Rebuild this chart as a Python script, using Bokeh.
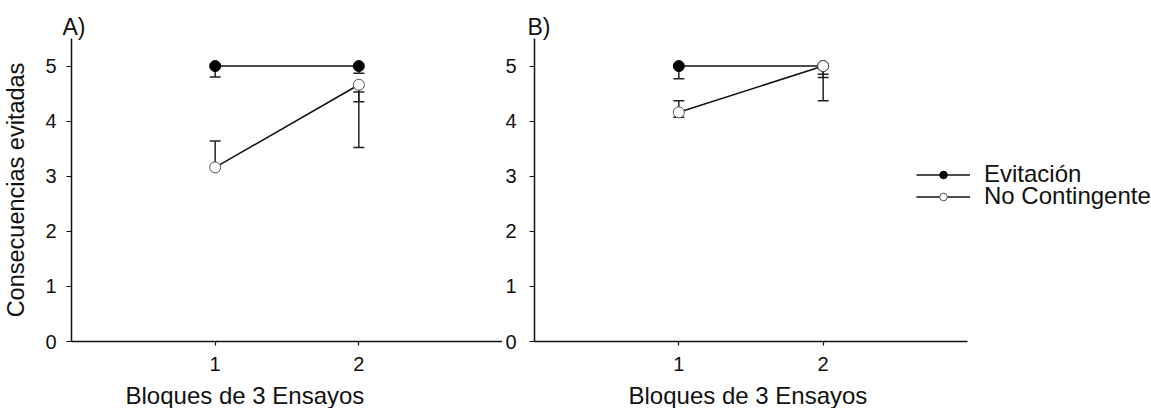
from bokeh.plotting import figure
from bokeh.layouts import row
from bokeh.models import Range1d, Legend, LegendItem, Title, FixedTicker, ColumnDataSource
from bokeh.embed import file_html
from bokeh.resources import INLINE

# ---------------- data ----------------
blocks = [1, 2]
x_ticks = [1, 2]
y_ticks = [0, 1, 2, 3, 4, 5]

A_evitacion = [5.0, 5.0]
A_no_contingente = [3.16, 4.66]
A_err_x = [1, 2, 1, 2, 2, 2]
A_err_base = [5.0, 5.0, 3.16, 4.66, 4.66, 4.66]
A_err_end = [4.80, 4.87, 3.64, 3.52, 4.53, 4.35]

B_evitacion = [5.0, 5.0]
B_no_contingente = [4.16, 5.0]
B_err_x = [1, 2, 2, 1, 1, 2]
B_err_base = [5.0, 5.0, 5.0, 4.16, 4.16, 5.0]
B_err_end = [4.77, 4.85, 4.79, 4.37, 4.07, 4.37]

series_names = ["Evitación", "No Contingente"]
x_title = "Bloques de 3 Ensayos"
y_title = "Consecuencias evitadas"

FONT = "Liberation Sans"
INK = "#111111"


def make_panel(letter, evit, nc, ex, eb, ee, frame_w, x_end, border_left, border_top,
               border_bottom, ylabel_standoff, title_offset, xtitle_offset):
    p = figure(output_backend="svg", toolbar_location=None,
               frame_width=frame_w, frame_height=303,
               min_border_left=border_left, min_border_right=0,
               min_border_top=border_top, min_border_bottom=border_bottom,
               x_range=Range1d(0, x_end), y_range=Range1d(0, 5.5))
    p.outline_line_color = None
    p.background_fill_color = "white"
    p.border_fill_color = "white"
    p.xgrid.visible = False
    p.ygrid.visible = False

    for ax in (p.xaxis[0], p.yaxis[0]):
        ax.axis_line_width = 1.5
        ax.axis_line_color = INK
        ax.major_tick_line_color = INK
        ax.major_tick_line_width = 1.2
        ax.minor_tick_line_color = None
        ax.major_tick_in = 0
        ax.major_label_text_font = FONT
        ax.major_label_text_font_size = "20px"
        ax.major_label_text_color = INK
        ax.axis_label_text_font = FONT
        ax.axis_label_text_font_size = "23.5px"
        ax.axis_label_text_font_style = "normal"
        ax.axis_label_text_color = INK
    p.xaxis.bounds = (0, 3)
    p.xaxis.ticker = FixedTicker(ticks=x_ticks)
    p.yaxis.ticker = FixedTicker(ticks=y_ticks)
    p.xaxis.major_tick_out = 4
    p.yaxis.major_tick_out = 5
    p.xaxis.major_label_standoff = 11
    p.yaxis.major_label_standoff = ylabel_standoff

    # panel letter
    p.title.text = letter + ")"
    p.title.align = "left"
    p.title.offset = title_offset
    p.title.standoff = -2
    p.title.text_font = FONT
    p.title.text_font_size = "23px"
    p.title.text_font_style = "normal"
    p.title.text_color = INK

    # x-axis title
    p.add_layout(Title(text=x_title, align="left", offset=xtitle_offset, standoff=12,
                       text_font=FONT, text_font_size="24px", text_font_style="normal",
                       text_color=INK), "below")

    # error bars
    src = ColumnDataSource(dict(x=ex, y0=eb, y1=ee))
    p.segment(x0="x", y0="y0", x1="x", y1="y1", source=src,
              line_color="#222222", line_width=1.5)
    p.scatter(x="x", y="y1", source=src, marker="dash", size=11,
              line_color="#222222", line_width=1.5)

    # series
    l1 = p.line(blocks, evit, line_color=INK, line_width=1.6)
    l2 = p.line(blocks, nc, line_color=INK, line_width=1.6)
    s1 = p.scatter(blocks, evit, marker="circle", size=11,
                   fill_color="black", line_color="black", line_width=1)
    s2 = p.scatter(blocks, nc, marker="circle", size=11,
                   fill_color="white", line_color="#555555", line_width=1)
    return p, (l1, s1), (l2, s2)


pA, _, _ = make_panel("A", A_evitacion, A_no_contingente, A_err_x, A_err_base, A_err_end,
                      431, 3, 71, 35, 70, 10, -9, 54)
pA.yaxis.axis_label = y_title
pA.yaxis.axis_label_standoff = 13

# B frame reaches the right edge so the legend can sit beside the axes
pB, gE, gN = make_panel("B", B_evitacion, B_no_contingente, B_err_x, B_err_base, B_err_end,
                        619, 3 * 619 / 433, 30, 38, 67, 13, -7, 94)

legend_rows = [(series_names[0], gE, 153), (series_names[1], gN, 131)]
for name, rends, ypos in legend_rows:
    lg = Legend(items=[LegendItem(label=name, renderers=list(rends))],
                location=(382, ypos), padding=0, margin=0, spacing=0,
                glyph_width=54, glyph_height=19, label_height=19,
                label_standoff=14, border_line_color=None,
                background_fill_alpha=0,
                label_text_font=FONT, label_text_font_size="24px",
                label_text_color=INK)
    pB.add_layout(lg, "center")

layout = row(pA, pB)
open("out.html", "w").write(file_html(layout, INLINE))
